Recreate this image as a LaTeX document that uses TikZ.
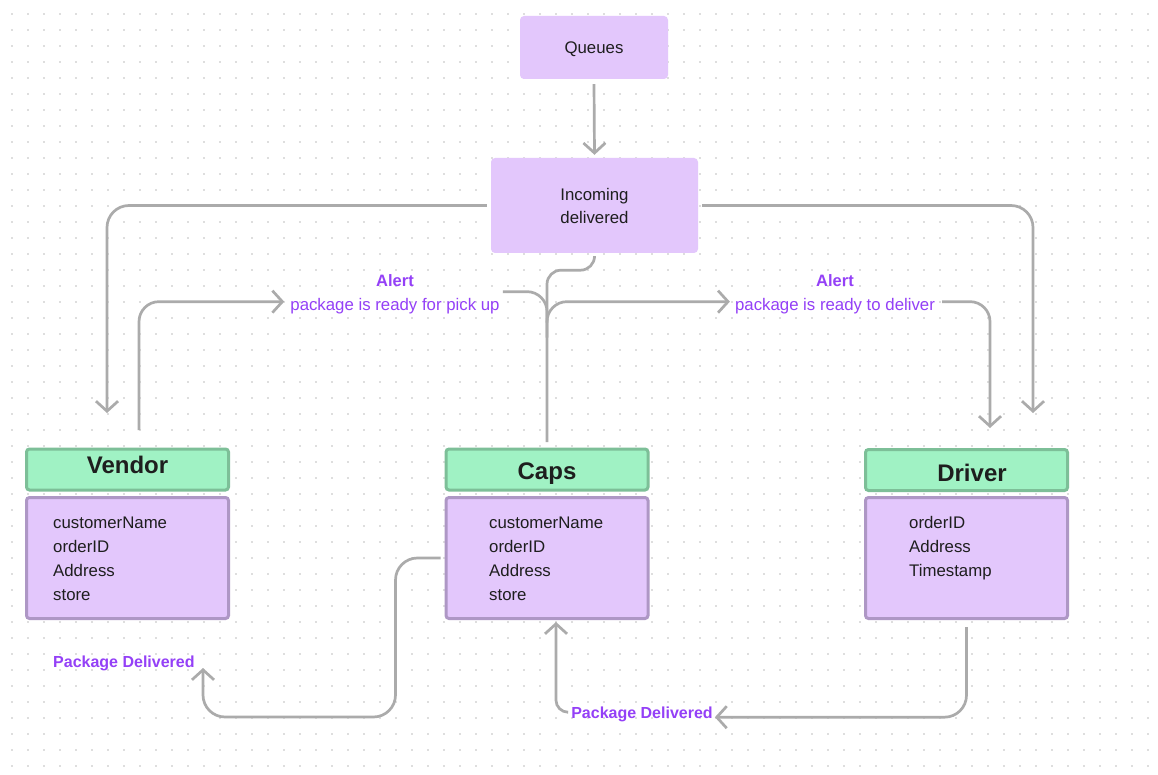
\documentclass[tikz,border=0pt]{standalone}
\usepackage{fontspec}
\setmainfont{Liberation Sans}
\usetikzlibrary{arrows.meta,calc}
\definecolor{lav}{HTML}{E3C7FC}
\definecolor{lavb}{HTML}{AE97C5}
\definecolor{grn}{HTML}{A0F2C4}
\definecolor{grnb}{HTML}{7DBF98}
\definecolor{wire}{HTML}{ABABAB}
\definecolor{purp}{HTML}{9440F7}
\definecolor{ink}{HTML}{1E1E1E}
\definecolor{dotc}{HTML}{DEDEDE}
\begin{document}
\begin{tikzpicture}[x=1pt,y=-1pt,
 box/.style={rectangle, rounded corners=4pt, fill=lav, inner sep=0pt, text=ink, font=\fontsize{16.8}{23}\selectfont, align=center},
 hdr/.style={rectangle, rounded corners=3pt, fill=grn, draw=grnb, line width=3pt, minimum width=202pt, minimum height=41pt, inner sep=0pt},
 bodybox/.style={rectangle, rounded corners=3pt, fill=lav, draw=lavb, line width=3pt, minimum width=202pt, minimum height=121pt, inner sep=0pt},
 ttl/.style={font=\fontsize{24}{28}\selectfont\bfseries, text=ink, inner sep=0pt, anchor=base},
 field/.style={font=\fontsize{16.8}{24}\selectfont, text=ink, inner sep=0pt, anchor=base west},
 alert/.style={font=\fontsize{16.5}{20}\selectfont\bfseries, text=purp, inner sep=0pt, anchor=base},
 msg/.style={font=\fontsize{16.8}{20}\selectfont, text=purp, inner sep=0pt, anchor=base},
 pdl/.style={font=\fontsize{16}{20}\selectfont\bfseries, text=purp, inner sep=0pt},
 wireline/.style={draw=wire, line width=2.7pt, rounded corners=22pt},
 arr/.style={wireline, -{Straight Barb[length=10pt,width=22pt]}},
]
\useasboundingbox (0,0) rectangle (1158,775);
\fill[white] (0,0) rectangle (1158,775);
\foreach \yy in {14,30,...,775}
  \draw[dotc, line width=1.8pt, dash pattern=on 1.8pt off 14.2pt] (11,\yy) -- (1158,\yy);

% boxes
\node[box, minimum width=148pt, minimum height=63pt, text height=12pt, text depth=0pt] (queues) at (594,47.5) {Queues};
\node[box, minimum width=207pt, minimum height=95pt] (inc) at (594.5,205.5) {Incoming\\delivered};

\node[hdr] (vhdr) at (127.5,469.5) {};
\node[bodybox] (vbody) at (127.5,558) {};
\node[hdr] (chdr) at (547,469.5) {};
\node[bodybox] (cbody) at (547,558) {};
\node[hdr] (dhdr) at (966.5,470) {};
\node[bodybox] (dbody) at (966.5,558) {};

\node[ttl] (vtitle) at (127.5,473.3) {Vendor};
\node[ttl] (ctitle) at (547,479.3) {Caps};
\node[ttl] (dtitle) at (972,481.7) {Driver};

\foreach \t [count=\i] in {customerName,orderID,Address,store}
  \node[field] (vf\i) at (53,{528+24*(\i-1)}) {\t};
\foreach \t [count=\i] in {customerName,orderID,Address,store}
  \node[field] (cf\i) at (489,{528+24*(\i-1)}) {\t};
\foreach \t [count=\i] in {orderID,Address,Timestamp}
  \node[field] (df\i) at (909,{528+24*(\i-1)}) {\t};

% labels
\node[alert] (alertl) at (395,287) {Alert};
\node[msg] (pickup) at (395,310) {package is ready for pick up};
\node[alert] (alertr) at (835,287) {Alert};
\node[msg] (deliver) at (835,310) {package is ready to deliver};
\node[pdl, anchor=base west] (pd1) at (53,667.3) {Package Delivered};
\node[pdl, anchor=base] (pd2) at (642,718.3) {Package Delivered};

% free ends
\coordinate (vtip) at (107,413);
\coordinate (dtipb) at (1033,413);
\coordinate (dtipa) at (990,428);
\coordinate (vout) at (139,430);
\coordinate (vpdtip) at (203,668);

% connectors
\draw[arr] ([yshift=-5pt]queues.south) -- ([yshift=3pt]inc.north);
\draw[arr] ([xshift=-4pt]inc.west) -| (vtip);
\draw[arr] ([xshift=4pt]inc.east) -| (dtipb);
\draw[wireline, rounded corners=14pt] ([yshift=-5pt]inc.south) -- ++(0,12) -| ([yshift=5.5pt]chdr.north);
\draw[wireline, rounded corners=20pt] ($(pickup.east)+(3,-14)$) -| ($(chdr.north)+(0,-125)$);
\draw[arr, rounded corners=20pt] ($(chdr.north)+(0,-110)$) |- ($(deliver.west)+(-5,-4)$);
\draw[arr, rounded corners=20pt] ($(deliver.east)+(7,-4)$) -| (dtipa);
\draw[arr, rounded corners=20pt] (vout) |- ($(pickup.west)+(-6,-4)$);
\draw[arr] ($(cbody.west)+(-4,0)$) -- ++(-45,0) |- ($(vpdtip)+(0,49)$) -- (vpdtip);
\draw[arr] ($(dbody.south)+(0,7)$) |- ($(pd2.east)+(2,3)$);
\draw[arr, rounded corners=12pt] ($(pd2.west)+(-4,-2)$) -| ($(cbody.south)+(9,2)$);
\end{tikzpicture}
\end{document}
